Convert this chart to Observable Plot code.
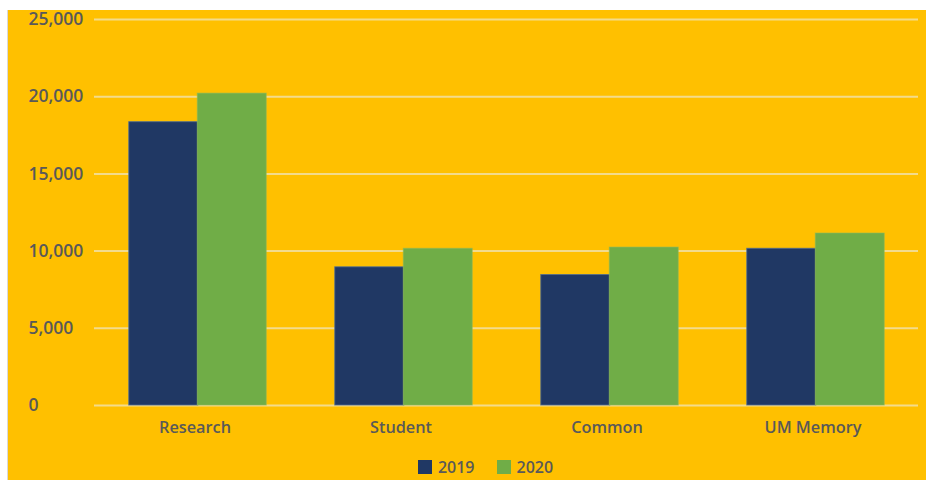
<!DOCTYPE html>
<html>
<head>
<meta charset="utf-8">
<script src="https://cdn.jsdelivr.net/npm/d3@7"></script>
<script src="https://cdn.jsdelivr.net/npm/@observablehq/plot@0.6"></script>
<style>
  html, body { margin: 0; padding: 0; background: #ffffff; overflow: hidden; }
  #frame {
    position: absolute; left: 7px; top: 10px; width: 919px; height: 470px;
    background: #FFC000; border-left: 1px solid #d9d9d9; box-sizing: border-box;
    font-family: "Open Sans", sans-serif;
  }
  #chart { position: absolute; left: 0; top: -10px; }
  #legend {
    position: absolute; left: 0; width: 100%; top: 447px; line-height: 20px; text-align: center;
    font-size: 16px; font-weight: 600; color: #595959; white-space: nowrap;
    padding-left: 37px; box-sizing: border-box;
  }
  #legend span.item { display: inline-block; margin: 0 11px; }
  #legend span.sw { display: inline-block; width: 14px; height: 14px; vertical-align: -1px; margin-right: 6px; }
</style>
</head>
<body>
<div id="frame">
  <div id="chart"></div>
  <div id="legend"></div>
</div>
<script>
const categories = ["Research", "Student", "Common", "UM Memory"];
const years = ["2019", "2020"];
const values2019 = [18350, 8950, 8450, 10150];
const values2020 = [20200, 10150, 10230, 11140];
const yTicks = [0, 5000, 10000, 15000, 20000, 25000];
const colors = ["#203864", "#70AD47"];

const data = [];
categories.forEach((c, i) => {
  data.push({category: c, year: years[0], value: values2019[i]});
  data.push({category: c, year: years[1], value: values2020[i]});
});

const textColor = "#595959";
const barHalf = 34.25;

const chart = Plot.plot({
  width: 918,
  height: 450,
  marginLeft: 86,
  marginRight: 8,
  marginTop: 19,
  marginBottom: 45,
  style: { background: "transparent", overflow: "visible", fontFamily: "'Open Sans', sans-serif", fontSize: "16px", fontWeight: 600, color: textColor },
  x: { domain: categories, paddingInner: 0.667, paddingOuter: 0.3335, align: 0.5, label: null },
  y: { domain: [0, 25000], label: null },
  color: { domain: years, range: colors },
  marks: [
    Plot.ruleY(yTicks, { stroke: "#F3DB8C", strokeWidth: 2 }),
    Plot.barY(data.filter(d => d.year === years[0]), {
      x: "category", y: "value", fill: "year", dx: -barHalf, inset: 0,
      stroke: "#4B6A95", strokeWidth: 1, strokeOpacity: 0.8
    }),
    Plot.barY(data.filter(d => d.year === years[1]), {
      x: "category", y: "value", fill: "year", dx: barHalf, inset: 0,
      stroke: "#8DB95A", strokeWidth: 1, strokeOpacity: 0.6
    }),
    Plot.axisY({
      ticks: yTicks, tickSize: 0, tickPadding: 0, textAnchor: "start", dx: -66,
      tickFormat: d3.format(","), fill: textColor, fontSize: 17.5, label: null
    }),
    Plot.axisX({
      tickSize: 0, tickPadding: 16, dx: -3, fill: textColor, fontSize: 16.3, label: null
    })
  ]
});
document.getElementById("chart").appendChild(chart);

const legend = document.getElementById("legend");
years.forEach((y, i) => {
  const item = document.createElement("span");
  item.className = "item";
  const sw = document.createElement("span");
  sw.className = "sw";
  sw.style.background = colors[i];
  item.appendChild(sw);
  item.appendChild(document.createTextNode(y));
  legend.appendChild(item);
});
</script>
</body>
</html>
